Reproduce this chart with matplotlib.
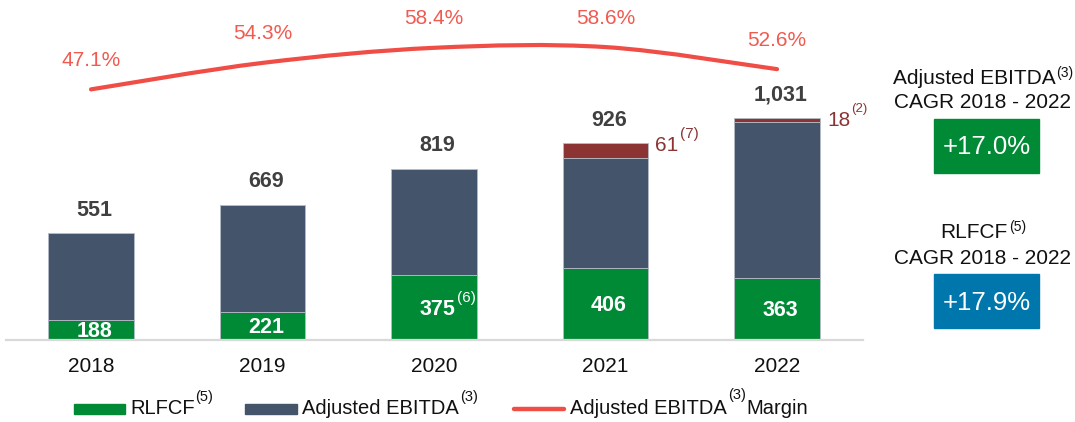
import numpy as np
import matplotlib
matplotlib.use("Agg")
import matplotlib.pyplot as plt
from matplotlib.patches import Rectangle, PathPatch
from matplotlib.path import Path
from matplotlib.lines import Line2D

plt.rcParams['font.family'] = ['Liberation Sans', 'DejaVu Sans']

# data
years = ['2018', '2019', '2020', '2021', '2022']
rlfcf = [188, 221, 375, 406, 363]
ebitda = [551, 669, 819, 926, 1031]
ebitda_extra = [0, 0, 0, 61, 18]
extra_notes = ['', '', '', '(7)', '(2)']
rlfcf_notes = ['', '', '(6)', '', '']
margin = [47.1, 54.3, 58.4, 58.6, 52.6]
cagr_ebitda = '+17.0%'
cagr_rlfcf = '+17.9%'

GREEN = '#008A36'
SLATE = '#44546A'
MAROON = '#8C3434'
LINE_RED = '#EF4D45'
LABEL_RED = '#F05A50'
BLUE = '#0077AC'
DARK = '#404040'
TXT = '#111111'

W, H = 1075, 422
fig = plt.figure(figsize=(W / 100, H / 100), dpi=100)
fig.patch.set_facecolor('white')


def fx(px):
    return px / W


def fy(py):
    return 1 - py / H


def pt(px):
    # pixel offset -> points
    return px * 72 / 100


# bar axes: baseline at y=339.5 px, left 6 px, right 863 px
ax = fig.add_axes([fx(6), fy(339.5), fx(863) - fx(6), 339.5 / H])
ax.set_xlim(-0.4956, 4.501)
ax.set_ylim(107, 1524)
ax.patch.set_alpha(0)

xpos = np.arange(len(years))
width = 0.5
rl = np.array(rlfcf)
tot = np.array(ebitda)
ext = np.array(ebitda_extra)
core = tot - ext - rl

edge = dict(edgecolor='#B4BCC6', linewidth=0.6)
ax.bar(xpos, rl, width, color=GREEN, **edge)
ax.bar(xpos, core, width, bottom=rl, color=SLATE, **edge)
ax.bar(xpos, ext, width, bottom=tot - ext, color=MAROON, **edge)

for s in ['top', 'left', 'right']:
    ax.spines[s].set_visible(False)
ax.spines['bottom'].set_color('#D9D9D9')
ax.spines['bottom'].set_linewidth(1.6)
ax.set_yticks([])
ax.set_xticks(xpos)
ax.set_xticklabels(years, fontsize=15, color=TXT)
ax.tick_params(axis='x', length=0, pad=pt(18))

y0 = ax.get_ylim()[0]
dx = pt(3.5)  # value labels sit a touch right of the bar centre
for i in range(len(years)):
    # totals above the bars
    ax.annotate(f'{ebitda[i]:,}', (xpos[i], tot[i]), xytext=(dx, pt(23)),
                textcoords='offset points', ha='center', va='center',
                fontsize=15.5, fontweight='bold', color=DARK)
    # RLFCF inside the green segment
    t = ax.annotate(str(rlfcf[i]), (xpos[i], (y0 + rl[i]) / 2), xytext=(dx, -pt(2)),
                    textcoords='offset points', ha='center', va='center',
                    fontsize=15.5, fontweight='bold', color='white')
    if rlfcf_notes[i]:
        ax.annotate(rlfcf_notes[i], (1, 1), xycoords=t, xytext=(pt(2), pt(1)),
                    textcoords='offset points', ha='left', va='center',
                    fontsize=11, color='white')
    # extra EBITDA segment labels
    if ebitda_extra[i]:
        t = ax.annotate(str(ebitda_extra[i]), (xpos[i] + width / 2, tot[i]),
                        xytext=(pt(7), -pt(2.5)), textcoords='offset points',
                        ha='left', va='center', fontsize=15, color=MAROON)
        ax.annotate(extra_notes[i], (1, 1), xycoords=t, xytext=(pt(1), pt(2)),
                    textcoords='offset points', ha='left', va='center',
                    fontsize=11 if i == 3 else 9.5, color=MAROON)

# margin line on a twin axis, smoothed with bezier segments
ax2 = ax.twinx()
ax2.set_ylim(-20.9, 71.4)
ax2.axis('off')
pts = np.column_stack([xpos, margin]).astype(float)
n = len(pts)
verts = [pts[0]]
codes = [Path.MOVETO]
for i in range(n - 1):
    p0 = pts[i - 1] if i > 0 else pts[i]
    p1, p2 = pts[i], pts[i + 1]
    p3 = pts[i + 2] if i + 2 < n else pts[i + 1]
    verts += [p1 + (p2 - p0) / 6, p2 - (p3 - p1) / 6, p2]
    codes += [Path.CURVE4] * 3
ax2.add_patch(PathPatch(Path(verts, codes), fill=False, edgecolor=LINE_RED,
                        linewidth=3.0, capstyle='round', joinstyle='round'))
for i, m in enumerate(margin):
    ax2.annotate(f'{m:.1f}%', (xpos[i], m), xytext=(0, pt(29)),
                 textcoords='offset points', ha='center', va='center',
                 fontsize=15, color=LABEL_RED)

# legend
ly = 409


def sup(note, anchor, dy, size=10.5, color=TXT):
    return ax.annotate(note, (1, 1), xycoords=anchor, xytext=(pt(1), pt(dy)),
                       textcoords='offset points', ha='left', va='center',
                       fontsize=size, color=color, annotation_clip=False)


fig.add_artist(Rectangle((fx(74), fy(ly + 5)), fx(125) - fx(74), 10 / H,
                         transform=fig.transFigure, color=GREEN))
t = fig.text(fx(130), fy(ly), 'RLFCF', fontsize=14.5, va='center', ha='left', color=TXT)
sup('(5)', t, 3)
fig.add_artist(Rectangle((fx(245), fy(ly + 5)), fx(297) - fx(245), 10 / H,
                         transform=fig.transFigure, color=SLATE))
t = fig.text(fx(302), fy(ly), 'Adjusted EBITDA', fontsize=14.5, va='center', ha='left',
             color=TXT)
sup('(3)', t, 3)
fig.add_artist(Line2D([fx(514), fx(564)], [fy(ly), fy(ly)], transform=fig.transFigure,
                      color=LINE_RED, linewidth=3.2, solid_capstyle='round'))
t = fig.text(fx(570), fy(ly), 'Adjusted EBITDA', fontsize=14.5, va='center', ha='left',
             color=TXT)
s = sup('(3)', t, 5)
ax.annotate('Margin', (1, 0.5), xycoords=(s, t), xytext=(pt(1), 0),
            textcoords='offset points', ha='left', va='center', fontsize=14.5,
            color=TXT, annotation_clip=False)


# CAGR panels on the right
def cagr_panel(title, note, top, value, color):
    cx = 982
    t = fig.text(fx(cx - 8), fy(top), title, fontsize=15, ha='center', va='center',
                 color=TXT)
    sup(note, t, -4, size=10)
    fig.text(fx(cx), fy(top + 25), 'CAGR 2018 - 2022', fontsize=15, ha='center',
             va='center', color=TXT)
    box_top = top + 41
    fig.add_artist(Rectangle((fx(934), fy(box_top + 54)), fx(1039) - fx(934), 54 / H,
                             transform=fig.transFigure, color=color))
    fig.text(fx(986.5), fy(box_top + 28.5), value, fontsize=18.5, ha='center',
             va='center', color='white')


cagr_panel('Adjusted EBITDA', '(3)', 78, cagr_ebitda, GREEN)
cagr_panel('RLFCF', '(5)', 233, cagr_rlfcf, BLUE)

fig.savefig('out.png', dpi=100, facecolor='white')
